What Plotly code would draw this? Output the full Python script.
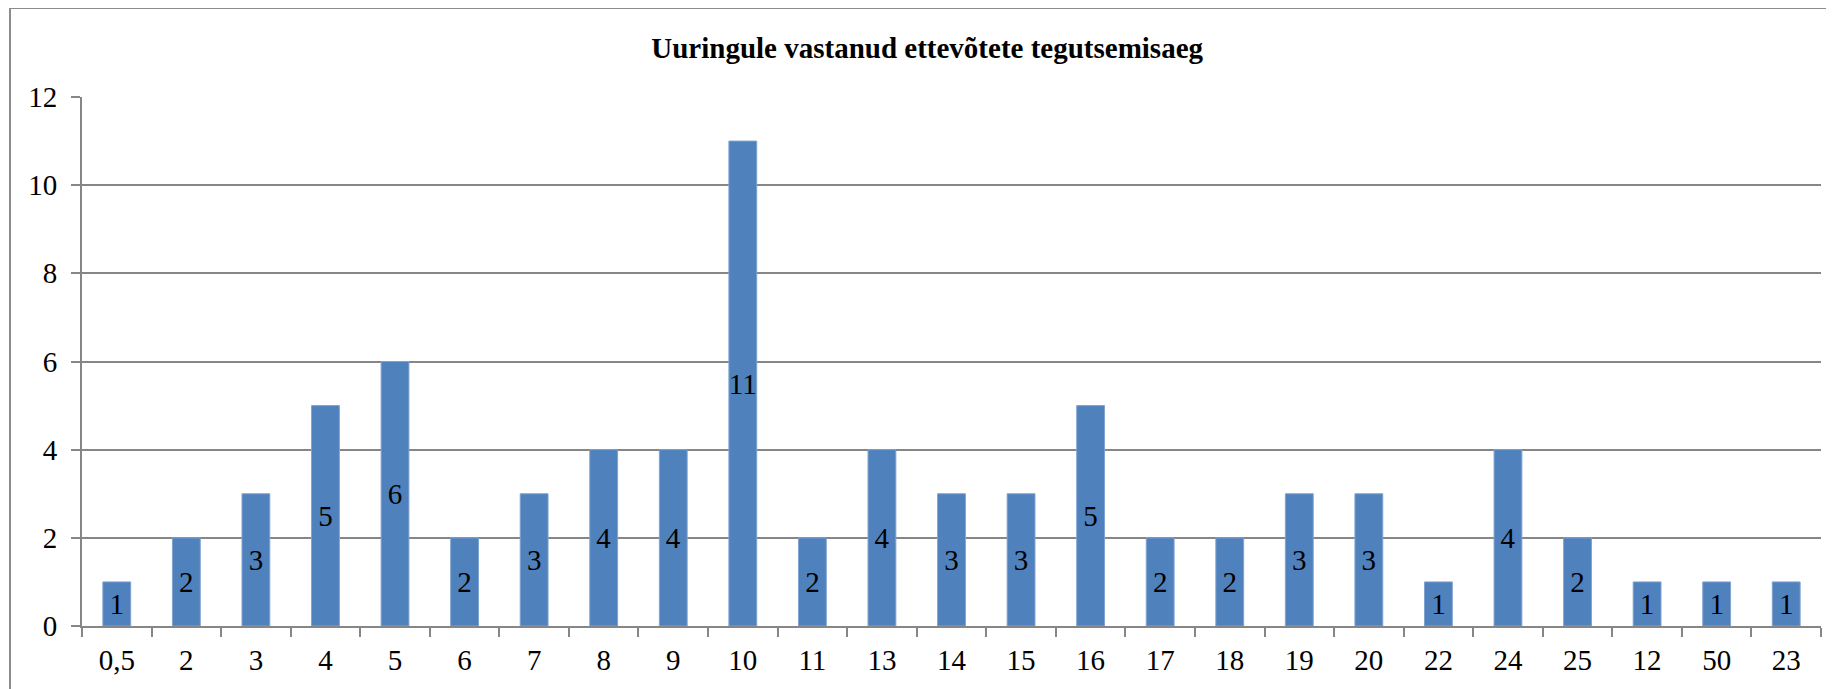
import plotly.graph_objects as go

categories = ["0,5", "2", "3", "4", "5", "6", "7", "8", "9", "10", "11", "13", "14",
              "15", "16", "17", "18", "19", "20", "22", "24", "25", "12", "50", "23"]
counts = [1, 2, 3, 5, 6, 2, 3, 4, 4, 11, 2, 4, 3, 3, 5, 2, 2, 3, 3, 1, 4, 2, 1, 1, 1]
title_text = "Uuringule vastanud ettevõtete tegutsemisaeg"

FONT = "Liberation Serif, Times New Roman, serif"
GRID = "#868686"
FS = 29

# page body adds an 8px offset; plot area target (page px): x 82..1821, y 97..626
ML, MT = 74, 89
PW, PH = 1739, 529
MR = 1834 - ML - PW
MB = 689 - MT - PH

fig = go.Figure(
    go.Bar(
        x=categories,
        y=counts,
        text=[str(v) for v in counts],
        textposition="inside",
        insidetextanchor="middle",
        textangle=0,
        constraintext="none",
        textfont=dict(family=FONT, size=FS, color="black"),
        marker=dict(color="#4F81BD", line=dict(color="#7FA3D0", width=1)),
        hoverinfo="x+y",
    )
)

bx = (2 - ML) / PW
by = (MT + PH - 0) / PH

fig.update_layout(
    width=1834,
    height=689,
    margin=dict(l=ML, r=MR, t=MT, b=MB),
    paper_bgcolor="white",
    plot_bgcolor="white",
    bargap=0.6,
    showlegend=False,
    uniformtext=dict(minsize=FS, mode="show"),
    font=dict(family=FONT, size=FS, color="black"),
    title=dict(
        text="<b>" + title_text + "</b>",
        font=dict(family=FONT, size=29, color="black"),
        x=0.486,
        xref="paper",
        xanchor="center",
        y=1 - 40 / 689,
        yref="container",
        yanchor="middle",
    ),
    xaxis=dict(
        type="category",
        showline=True,
        linecolor=GRID,
        linewidth=2,
        ticks="outside",
        tickson="boundaries",
        ticklen=9,
        tickwidth=2,
        tickcolor=GRID,
        showgrid=False,
        ticklabelstandoff=7,
        tickfont=dict(family=FONT, size=FS, color="black"),
        fixedrange=True,
    ),
    yaxis=dict(
        range=[0, 12],
        dtick=2,
        showline=True,
        linecolor=GRID,
        linewidth=2,
        ticks="outside",
        ticklen=9,
        tickwidth=2,
        tickcolor=GRID,
        showgrid=True,
        gridcolor=GRID,
        gridwidth=2,
        zeroline=False,
        ticklabelstandoff=8,
        tickfont=dict(family=FONT, size=FS, color="black"),
        fixedrange=True,
    ),
    shapes=[
        dict(type="line", xref="paper", yref="paper",
             x0=bx, x1=1.2, y0=by, y1=by,
             line=dict(color="#8C8C8C", width=2)),
        dict(type="line", xref="paper", yref="paper",
             x0=bx, x1=bx, y0=by, y1=-0.3,
             line=dict(color="#8C8C8C", width=2)),
    ],
)

fig.write_html("out.html")
